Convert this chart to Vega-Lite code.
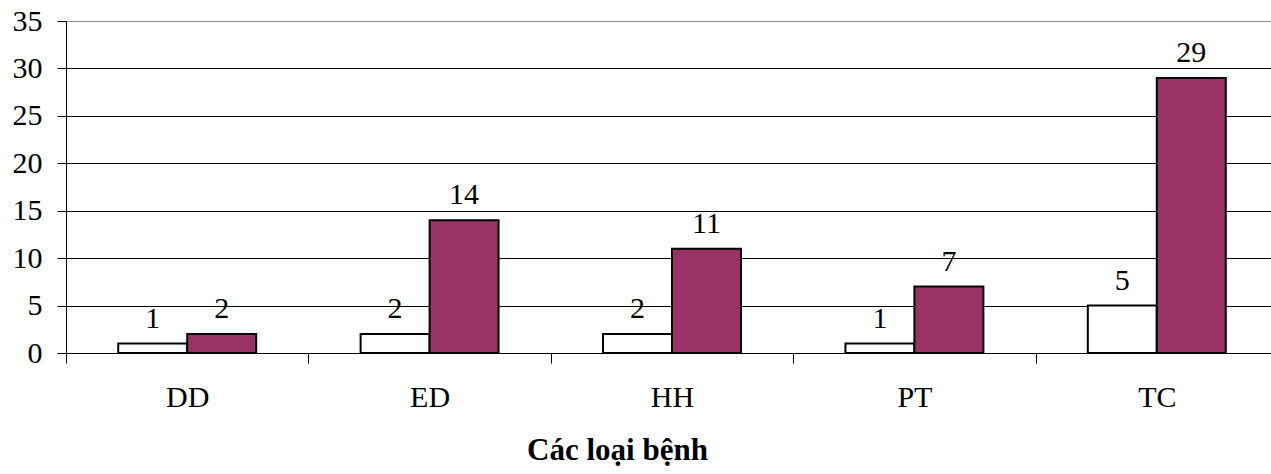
{
  "$schema": "https://vega.github.io/schema/vega-lite/v6.json",
  "autosize": "none",
  "width": 1212,
  "height": 332,
  "padding": {"left": 66, "top": 21, "right": 0, "bottom": 121},
  "background": "white",
  "config": {"view": {"stroke": null}, "font": "Liberation Serif"},
  "data": {"values": [
    {"cat": "DD", "s": "A", "v": 1}, {"cat": "DD", "s": "B", "v": 2},
    {"cat": "ED", "s": "A", "v": 2}, {"cat": "ED", "s": "B", "v": 14},
    {"cat": "HH", "s": "A", "v": 2}, {"cat": "HH", "s": "B", "v": 11},
    {"cat": "PT", "s": "A", "v": 1}, {"cat": "PT", "s": "B", "v": 7},
    {"cat": "TC", "s": "A", "v": 5}, {"cat": "TC", "s": "B", "v": 29}
  ]},
  "encoding": {
    "x": {"field": "cat", "type": "nominal", "sort": null,
      "scale": {"paddingInner": 0, "paddingOuter": 0},
      "axis": {"title": "Các loại bệnh", "titleFont": "Liberation Serif", "titleFontSize": 31, "titleFontWeight": "bold", "titleColor": "#000", "titlePadding": 23, "titleX": 551, "titleAnchor": "middle",
        "labelAngle": 0, "labelFont": "Liberation Serif", "labelFontSize": 30, "labelColor": "#000", "labelPadding": 19,
        "tickBand": "extent", "tickSize": 10, "tickColor": "#000", "domainColor": "#000", "grid": false}},
    "xOffset": {"field": "s", "type": "nominal", "scale": {"paddingInner": 0, "paddingOuter": 0.757}},
    "y": {"field": "v", "type": "quantitative",
      "scale": {"domain": [0, 35], "nice": false},
      "axis": {"title": null, "values": [0, 5, 10, 15, 20, 25, 30, 35], "labelFont": "Liberation Serif", "labelFontSize": 30, "labelColor": "#000", "labelPadding": 15,
        "tickSize": 9, "tickColor": "#000", "domainColor": "#000",
        "grid": true, "gridColor": {"condition": {"test": "datum.value == 35", "value": "#888888"}, "value": "#000000"}, "gridOpacity": 1}}
  },
  "layer": [
    {"mark": {"type": "bar", "stroke": "#000", "strokeWidth": 2},
     "encoding": {"color": {"field": "s", "type": "nominal", "scale": {"domain": ["A", "B"], "range": ["#ffffff", "#993366"]}, "legend": null}}},
    {"mark": {"type": "text", "baseline": "alphabetic", "dy": -16, "fontSize": 30, "font": "Liberation Serif", "color": "#000"},
     "encoding": {"text": {"field": "v", "type": "quantitative"}}}
  ]
}
